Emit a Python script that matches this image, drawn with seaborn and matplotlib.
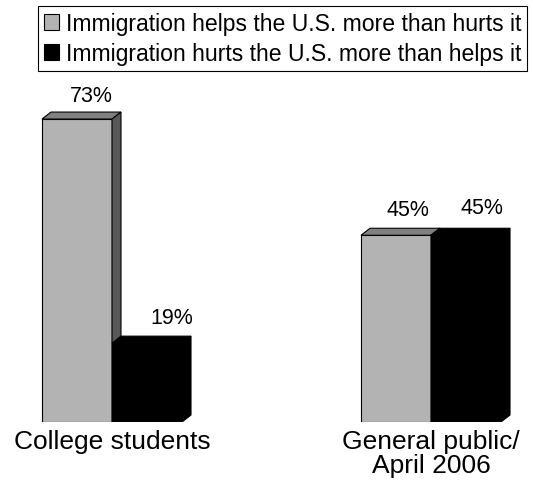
import numpy as np
import pandas as pd
import matplotlib
matplotlib.use('Agg')
import matplotlib.pyplot as plt
from matplotlib.patches import Polygon, Patch
import seaborn as sns

# datos ======================================================================
grupos = ['College students', 'General public/\nApril 2006']
opiniones = ['Immigration helps the U.S. more than hurts it',
             'Immigration hurts the U.S. more than helps it']
ayuda = [73, 45]
perjudica = [19, 45]

df = pd.DataFrame({
    'grupo': grupos * 2,
    'opinion': [opiniones[0]] * 2 + [opiniones[1]] * 2,
    'valor': ayuda + perjudica,
})

# colores: frente, techo, lado
colores = {
    opiniones[0]: ('#b3b3b3', '#808080', '#595959'),
    opiniones[1]: ('#000000', '#000000', '#000000'),
}

# desplazamientos de las etiquetas (pixeles), orden: gris, gris, negro, negro
etq_dx = [14, 12, 25, 16]
etq_dy = [24, 26, 26, 28]

sns.set_theme(style='white')
plt.rcParams['font.family'] = ['Liberation Sans', 'DejaVu Sans']
plt.rcParams['text.color'] = 'black'

W, H = 533, 481
fig = plt.figure(figsize=(W / 100, H / 100), dpi=100)
base = 423  # linea base de las barras (px desde arriba)
ax = fig.add_axes([0, (H - base) / H, 1, base / H])

sns.barplot(data=df, x='grupo', y='valor', hue='opinion', order=grupos,
            hue_order=opiniones, palette={k: v[0] for k, v in colores.items()},
            width=0.4389, gap=0, edgecolor='black', linewidth=0.8,
            legend=False, ax=ax, zorder=2)

ax.set_xlim(-112 / 319, (W - 112) / 319)
ax.set_ylim(0, base / 4.15)

# efecto 3D ==================================================================
sx = W / np.diff(ax.get_xlim())[0]
sy = base / np.diff(ax.get_ylim())[0]
ddx, ddy = 9 / sx, 7 / sy

barras = [p for p in ax.patches]
for i, p in enumerate(barras):
    op = opiniones[0] if i < 2 else opiniones[1]
    frente, techo, lado = colores[op]
    z = 2 if i < 2 else 3
    p.set_zorder(z)
    x0, y0 = p.get_x(), p.get_y()
    x1, y1 = x0 + p.get_width(), y0 + p.get_height()
    top = Polygon([(x0, y1), (x0 + ddx, y1 + ddy), (x1 + ddx, y1 + ddy), (x1, y1)],
                  closed=True, facecolor=techo, edgecolor='black', lw=0.8, zorder=z)
    side = Polygon([(x1, y0), (x1, y1), (x1 + ddx, y1 + ddy), (x1 + ddx, y0 + ddy)],
                   closed=True, facecolor=lado, edgecolor='black', lw=0.8, zorder=z)
    ax.add_patch(top)
    ax.add_patch(side)
    ax.annotate(f'{p.get_height():.0f}%', xy=((x0 + x1) / 2, y1),
                xytext=(etq_dx[i], etq_dy[i]), textcoords='offset pixels',
                ha='center', va='center', fontsize=15.5, color='black')

# ejes =======================================================================
ax.set_xlabel('')
ax.set_ylabel('')
ax.set_yticks([])
ax.tick_params(axis='x', length=0, pad=5, labelsize=19, labelcolor='black')
ax.set_xticks(range(len(grupos)))
ax.set_xticklabels(grupos, linespacing=1.02)
for s in ax.spines.values():
    s.set_visible(False)

handles = [Patch(facecolor=colores[o][0], edgecolor='black', lw=0.8) for o in opiniones]
leg = fig.legend(handles, opiniones, loc='upper right',
                 bbox_to_anchor=(527.3 / W, 1 - 7.3 / H), borderaxespad=0,
                 fontsize=16.6, frameon=True, fancybox=False, framealpha=1,
                 edgecolor='black', handlelength=0.66, handleheight=0.66,
                 handletextpad=0.3, labelspacing=0.3, borderpad=0.25)
leg.get_frame().set_linewidth(0.8)
for t in leg.get_texts():
    t.set_color('black')

fig.savefig('out.png', dpi=100)
